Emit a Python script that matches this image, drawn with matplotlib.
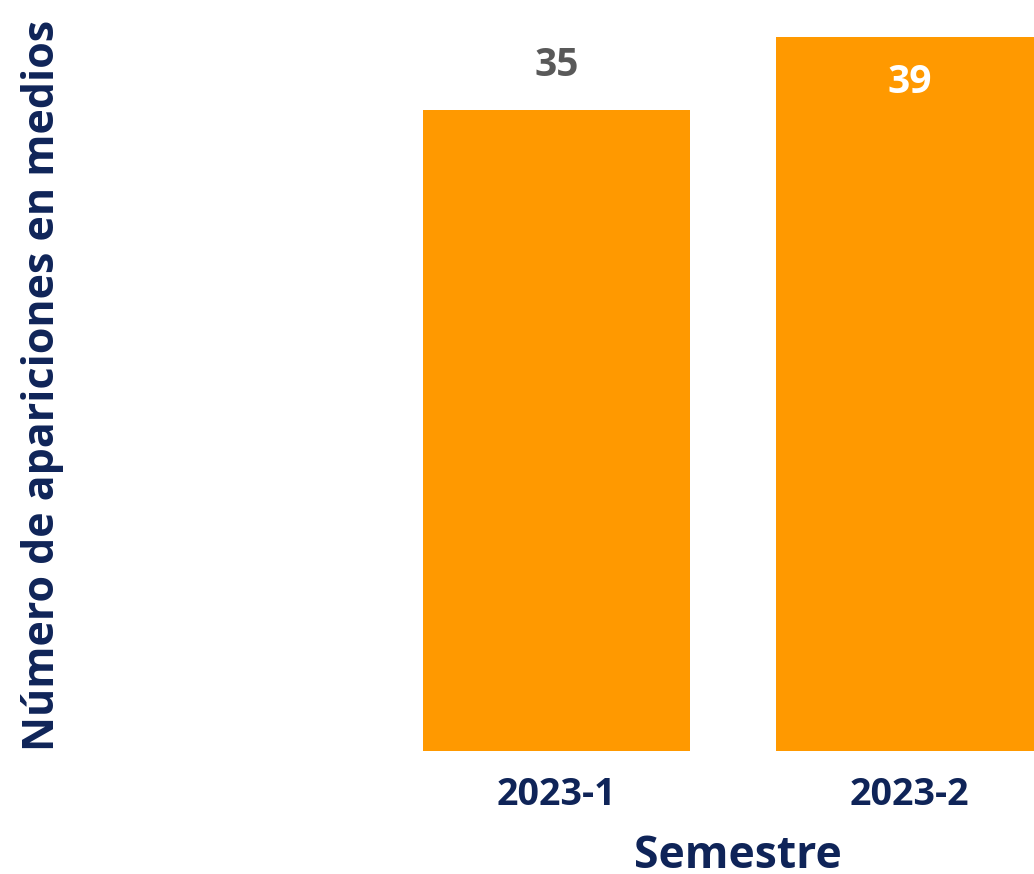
import matplotlib
matplotlib.use("Agg")
import matplotlib.pyplot as plt

semestres = ["2023-1", "2023-2"]
apariciones = [35, 39]

navy = "#0f2458"
naranja = "#ff9900"

plt.rcParams['font.family'] = ['Open Sans', 'DejaVu Sans']

fig = plt.figure(figsize=(10.34, 8.74), dpi=100)
ax = fig.add_axes([100 / 1034, 123 / 874, 934 / 1034, 751 / 874])

x = list(range(len(semestres)))
bars = ax.bar(x, apariciones, width=0.756, color=naranja)

# etiquetas de valor: la primera encima, la segunda dentro de la barra
for i, (b, v) in enumerate(zip(bars, apariciones)):
    cx = b.get_x() + b.get_width() / 2
    if i == 0:
        ax.text(cx, v + 2.45, str(v), ha='center', va='center',
                fontsize=28, fontweight='bold', color='#595959')
    else:
        ax.text(cx, v - 2.5, str(v), ha='center', va='center',
                fontsize=28, fontweight='bold', color='white')

ax.set_xlim(-1.293, 1.353)
ax.set_ylim(0, 41.0)
ax.set_xticks(x)
ax.set_xticklabels(semestres, fontsize=27, fontweight='bold', color=navy)
ax.tick_params(axis='x', length=0, pad=18)
ax.set_yticks([])
for s in ax.spines.values():
    s.set_visible(False)

ax.set_xlabel("Semestre", fontsize=32, fontweight='bold', color=navy)
ax.xaxis.set_label_coords((738 - 100) / 934, -83 / 751)
ax.set_ylabel("Número de apariciones en medios", fontsize=31,
              fontweight='bold', color=navy)
ax.yaxis.set_label_coords((64 - 100) / 934, (874 - 385 - 123) / 751)

fig.savefig("out.png", dpi=100)
